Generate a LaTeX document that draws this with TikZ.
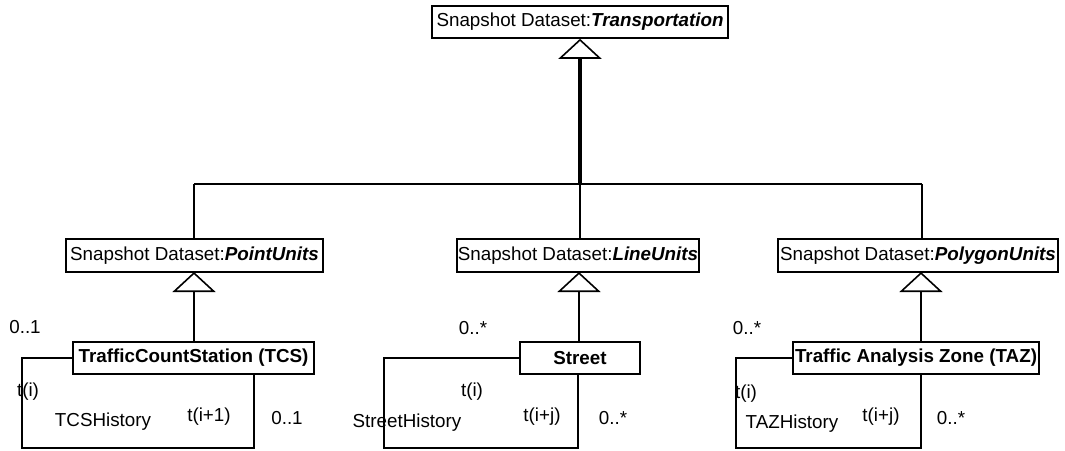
\documentclass[tikz,border=0pt]{standalone}
\usepackage{fontspec}
\setmainfont{Liberation Sans}
\usetikzlibrary{arrows.meta}
\begin{document}
\begin{tikzpicture}[x=1pt,y=-1pt,
  every node/.style={font=\fontsize{18.8}{22}\selectfont, inner sep=0pt},
  classbox/.style={draw, line width=1.6pt, minimum height=32pt},
  thin/.style={line width=1.6pt},
  genline/.style={line width=1.6pt, -{Triangle[open, width=43pt, length=20pt, line width=1.6pt]}},
  mainline/.style={line width=4pt, -{Triangle[open, width=43pt, length=20pt, line width=1.6pt]}},
  lbl/.style={anchor=center}]
\useasboundingbox (0,0) rectangle (1065,450);

% class boxes
\node[classbox, minimum width=296pt] (trans) at (580,22) {Snapshot Dataset:\textbf{\textit{Transportation}}};
\node[classbox, minimum width=257pt, minimum height=33pt] (point) at (194.5,255.5) {Snapshot Dataset:\textbf{\textit{PointUnits}}};
\node[classbox, minimum width=242pt, minimum height=33pt] (line) at (578,255.5) {Snapshot Dataset:\textbf{\textit{LineUnits}}};
\node[classbox, minimum width=280pt, minimum height=33pt] (poly) at (918,255.5) {Snapshot Dataset:\textbf{\textit{PolygonUnits}}};

\node[classbox, minimum width=241pt] (tcs) at (193.5,358) {\textbf{TrafficCountStation (TCS)}};
\node[classbox, minimum width=120pt] (street) at (580,358) {\textbf{Street}};
\node[classbox, minimum width=246pt] (taz) at (916,358) {\textbf{Traffic Analysis Zone (TAZ)}};

% generalisation tree
\coordinate (hub) at (580,184);
\coordinate (hl) at (194,184);
\coordinate (hr) at (922,184);
\draw[mainline] (hub) -- (trans.south);
\draw[thin] (hl) -- (hr);
\draw[thin] (hl) -- (hl |- point.north);
\draw[thin] (hub) -- (hub |- line.north);
\draw[thin] (hr) -- (hr |- poly.north);

\draw[genline] (tcs.north -| 194,0) -- (194,272);
\draw[genline] (street.north -| 579,0) -- (579,272);
\draw[genline] (taz.north -| 921,0) -- (921,272);

% history self-associations
\coordinate (tcsL) at (22,358);
\coordinate (tcsR) at (254,448);
\draw[thin] (tcs.west) -- (tcsL) -- (tcsL |- tcsR) -- (tcsR) -- (tcsR |- tcs.south);

\coordinate (stL) at (384,358);
\coordinate (stR) at (578,448);
\draw[thin] (street.west) -- (stL) -- (stL |- stR) -- (stR) -- (stR |- street.south);

\coordinate (tzL) at (736,358);
\coordinate (tzR) at (921,448);
\draw[thin] (taz.west) -- (tzL) -- (tzL |- tzR) -- (tzR) -- (tzR |- taz.south);

% labels
\node[lbl] (m1) at (25,327) {0..1};
\node[lbl] (t1) at (28,392) {t(i)};
\node[lbl] (h1) at (103,422) {TCSHistory};
\node[lbl] (n1) at (209,417) {t(i+1)};
\node[lbl] (m2) at (287,418) {0..1};

\node[lbl] (m3) at (473,328) {0..*};
\node[lbl] (t2) at (472,392) {t(i)};
\node[lbl] (h2) at (407,423) {StreetHistory};
\node[lbl] (n2) at (542,417) {t(i+j)};
\node[lbl] (m4) at (613,418) {0..*};

\node[lbl] (m5) at (747,328) {0..*};
\node[lbl] (t3) at (746,394) {t(i)};
\node[lbl] (h3) at (792,424) {TAZHistory};
\node[lbl] (n3) at (881,417) {t(i+j)};
\node[lbl] (m6) at (951,418) {0..*};
\end{tikzpicture}
\end{document}
